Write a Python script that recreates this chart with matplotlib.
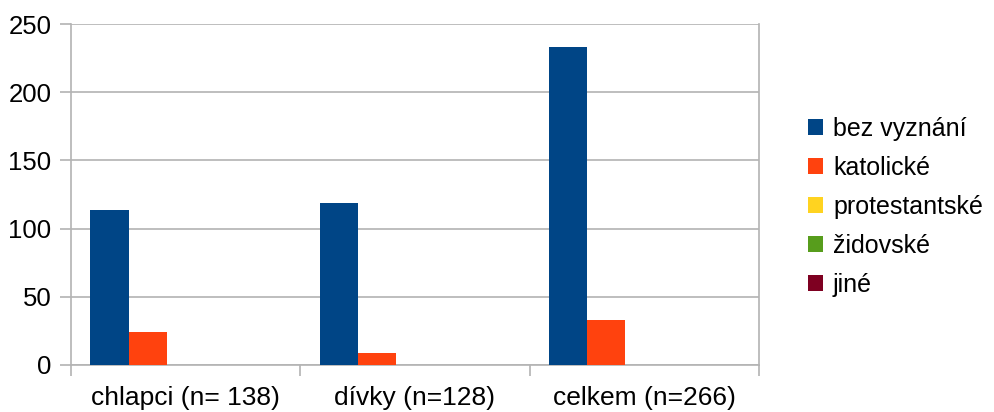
import numpy as np
import matplotlib.pyplot as plt
from matplotlib.patches import Patch

plt.rcParams['font.family'] = ['Liberation Sans', 'DejaVu Sans']

# Data
categories = ['chlapci (n= 138)', 'dívky (n=128)', 'celkem (n=266)']
series = ['bez vyznání', 'katolické', 'protestantské', 'židovské', 'jiné']
bez_vyznani = [114, 119, 233]
katolicke = [24, 9, 33]
protestantske = [0, 0, 0]
zidovske = [0, 0, 0]
jine = [0, 0, 0]
values = [bez_vyznani, katolicke, protestantske, zidovske, jine]
colors = ['#004586', '#ff420e', '#ffd320', '#579d1c', '#7e0021']

grid_col = '#b3b3b3'

fig = plt.figure(figsize=(9.94, 4.12), dpi=100)
ax = fig.add_axes([71 / 994, 1 - 365 / 412, 688 / 994, 341 / 412])

x = np.arange(len(categories))
w = 0.166
for i, (name, vals, c) in enumerate(zip(series, values, colors)):
    ax.bar(x + (i - 2) * w, vals, width=w, color=c, label=name, zorder=3)

ax.set_xlim(-0.5, len(categories) - 0.5)
ax.set_ylim(0, 250)
ax.set_yticks(range(0, 251, 50))
ax.yaxis.grid(True, color=grid_col, linewidth=1.2, zorder=0)

ax.set_xticks(x)
ax.set_xticklabels(categories)
ax.set_xticks(np.arange(-0.5, len(categories)), minor=True)
ax.tick_params(axis='x', which='major', length=0, pad=15, labelsize=19)
ax.tick_params(axis='x', which='minor', length=8, color=grid_col, width=1.2)
ax.tick_params(axis='y', length=8, color=grid_col, width=1.2, pad=6, labelsize=18.5)

for side in ['left', 'bottom', 'right']:
    ax.spines[side].set_color(grid_col)
    ax.spines[side].set_linewidth(1.2)
ax.spines['top'].set_visible(False)

handles = [Patch(facecolor=c, label=s) for s, c in zip(series, colors)]
fig.legend(handles=handles, loc='center left', bbox_to_anchor=(808 / 994, 0.497),
           frameon=False, fontsize=18, handlelength=0.6, handleheight=0.6,
           handletextpad=0.4, labelspacing=0.6, borderpad=0, borderaxespad=0)

plt.savefig('out.png', dpi=100)
